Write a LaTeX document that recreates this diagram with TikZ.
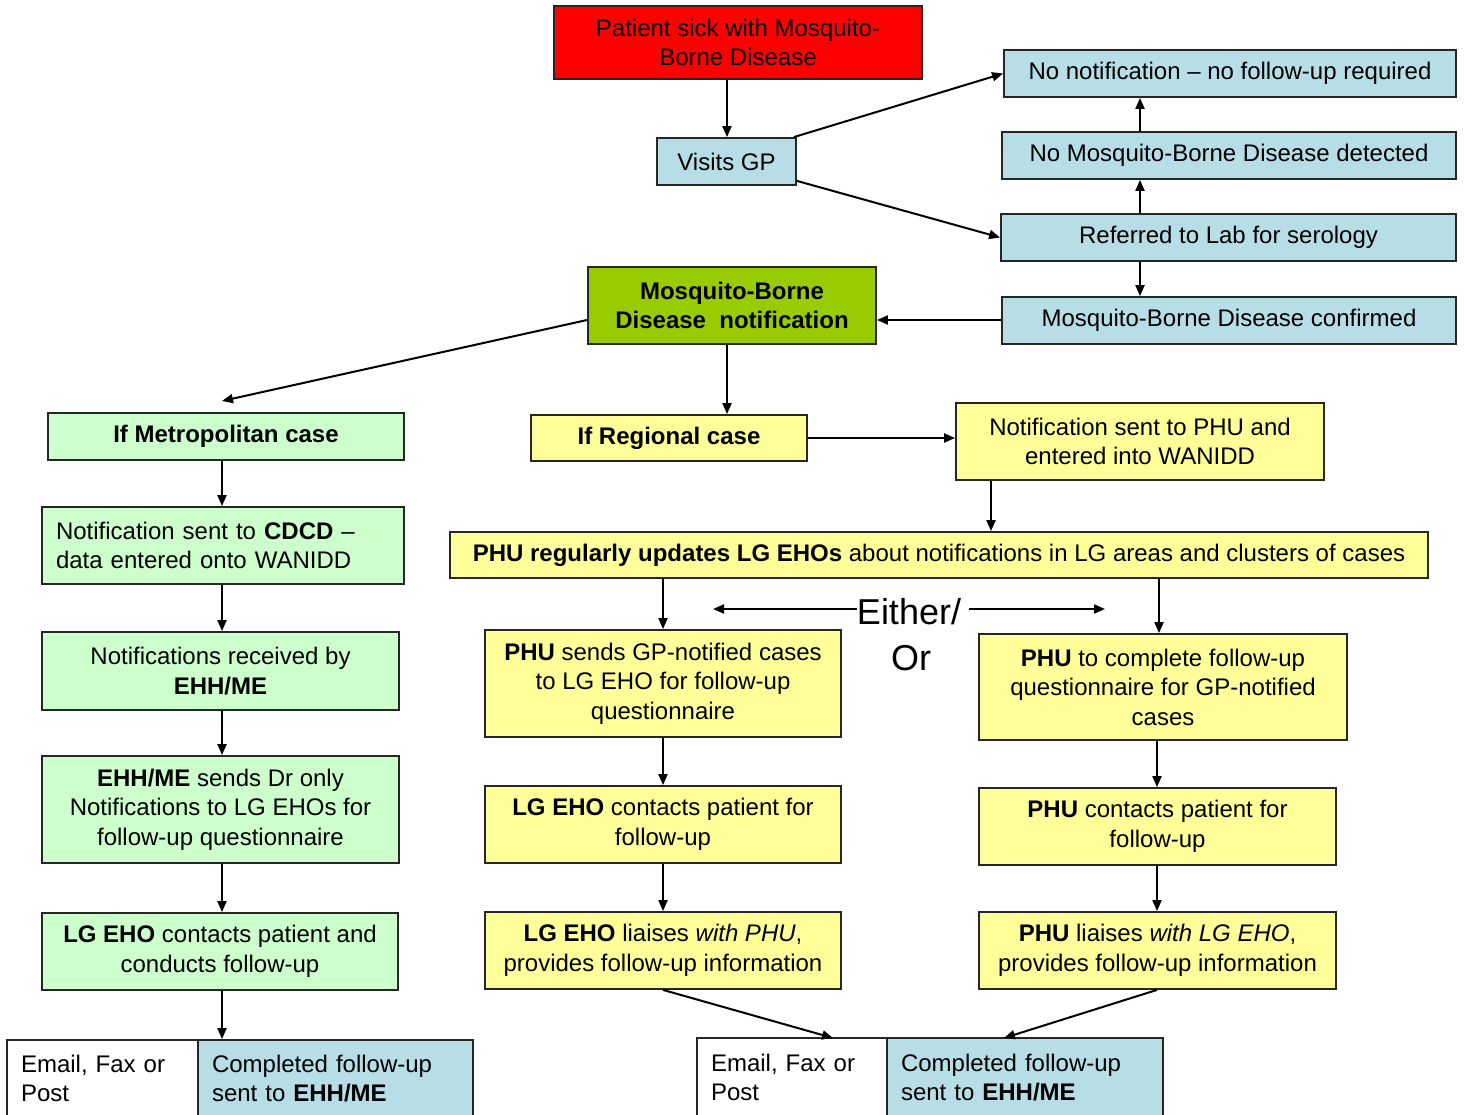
\documentclass[tikz,border=0pt]{standalone}
\usepackage{fontspec}
\setmainfont{Liberation Sans}
\usetikzlibrary{arrows.meta,calc}
\definecolor{lblue}{RGB}{183,221,230}
\definecolor{mgreen}{RGB}{153,204,0}
\definecolor{lgreen}{RGB}{204,255,204}
\definecolor{lyellow}{RGB}{255,255,153}
\begin{document}
\begin{tikzpicture}[x=1pt,y=-1pt,
  box/.style={draw=black!85,line width=1.8pt,inner sep=0pt,align=center,
    font=\fontsize{24}{29.5}\selectfont},
  lbox/.style={box,align=left,inner xsep=14pt},
  arr/.style={-{Triangle[length=11pt,width=9pt]},line width=2pt},
  bigtxt/.style={inner sep=0pt,font=\fontsize{36}{36}\selectfont}
]
\clip (0,0) rectangle (1466,1115);
\fill[white] (0,0) rectangle (1466,1115);

% top part
\node[box,fill=red,minimum width=368pt,minimum height=73pt] (red) at (738,42.5) {Patient sick with Mosquito-\\Borne Disease};
\node[box,fill=lblue,minimum width=139pt,minimum height=47pt] (gp) at (726.5,161.5) {Visits GP};
\node[box,fill=lblue,minimum width=452pt,minimum height=47pt] (nonotif) at (1230,73.5) {No notification -- no follow-up required};
\node[box,fill=lblue,minimum width=454pt,minimum height=47pt] (nomb) at (1229,155.5) {No Mosquito-Borne Disease detected};
\node[box,fill=lblue,minimum width=455pt,minimum height=47pt] (ref) at (1228.5,237.5) {Referred to Lab for serology};
\node[box,fill=lblue,minimum width=454pt,minimum height=47pt] (conf) at (1229,320.5) {Mosquito-Borne Disease confirmed};
\node[box,fill=mgreen,minimum width=288pt,minimum height=77pt,font=\fontsize{24}{29.5}\selectfont\bfseries] (notif) at (732,305.5) {Mosquito-Borne\\Disease\ \ notification};

% left column
\node[box,fill=lgreen,minimum width=356pt,minimum height=47pt,font=\fontsize{24}{29.5}\selectfont\bfseries] (metro) at (226,436.5) {If Metropolitan case};
\node[lbox,fill=lgreen,text width=334pt,minimum height=77pt] (cdcd) at (223,545.5) {Notification sent to \textbf{CDCD} --\\data entered onto WANIDD};
\node[box,fill=lgreen,minimum width=357pt,minimum height=78pt] (recv) at (220.5,671) {Notifications received by\\\textbf{EHH/ME}};
\node[box,fill=lgreen,minimum width=357pt,minimum height=107pt] (sends) at (220.5,809.5) {\textbf{EHH/ME} sends Dr only\\Notifications to LG EHOs for\\follow-up questionnaire};
\node[box,fill=lgreen,minimum width=356pt,minimum height=77pt] (lgcont) at (220,951.5) {\textbf{LG EHO} contacts patient and\\conducts follow-up};
\node[lbox,fill=white,text width=163pt,minimum height=77pt] (email1) at (102.5,1078.5) {Email, Fax or\\Post};
\node[lbox,fill=lblue,text width=247pt,minimum height=77pt] (comp1) at (335.5,1078.5) {Completed follow-up\\sent to \textbf{EHH/ME}};

% regional part
\node[box,fill=lyellow,minimum width=276pt,minimum height=46pt,font=\fontsize{24}{29.5}\selectfont\bfseries] (reg) at (669,438) {If Regional case};
\node[box,fill=lyellow,minimum width=368pt,minimum height=77pt] (phun) at (1140,441.5) {Notification sent to PHU and\\entered into WANIDD};
\node[box,fill=lyellow,minimum width=978pt,minimum height=46pt] (upd) at (939,555) {\textbf{PHU regularly updates LG EHOs} about notifications in LG areas and clusters of cases};
\node[box,fill=lyellow,minimum width=356pt,minimum height=107pt] (psend) at (663,683.5) {\textbf{PHU} sends GP-notified cases\\to LG EHO for follow-up\\questionnaire};
\node[box,fill=lyellow,minimum width=368pt,minimum height=106pt] (pcomp) at (1163,687) {\textbf{PHU} to complete follow-up\\questionnaire for GP-notified\\cases};
\node[box,fill=lyellow,minimum width=356pt,minimum height=77pt] (lgc2) at (663,824.5) {\textbf{LG EHO} contacts patient for\\follow-up};
\node[box,fill=lyellow,minimum width=357pt,minimum height=77pt] (pcont) at (1157.5,826.5) {\textbf{PHU} contacts patient for\\follow-up};
\node[box,fill=lyellow,minimum width=356pt,minimum height=77pt] (lgl) at (663,950.5) {\textbf{LG EHO} liaises \textit{with PHU},\\provides follow-up information};
\node[box,fill=lyellow,minimum width=357pt,minimum height=77pt] (pl) at (1157.5,950.5) {\textbf{PHU} liaises \textit{with LG EHO},\\provides follow-up information};
\node[lbox,fill=white,text width=162pt,minimum height=79pt] (email2) at (792,1077.5) {Email, Fax or\\Post};
\node[lbox,fill=lblue,text width=248pt,minimum height=79pt] (comp2) at (1025,1077.5) {Completed follow-up\\sent to \textbf{EHH/ME}};

% either / or
\node[bigtxt] (eith) at (909,612) {Either/};
\node[bigtxt] (or) at (911,658) {Or};

% helper coordinates
\coordinate (col) at (1140,0);
\coordinate (lcol) at (222,0);
\coordinate (mcol) at (727,0);
\coordinate (rcol) at (1157,0);
\coordinate (crow) at (0,320);
\coordinate (c991) at (991,0);
\coordinate (c1159) at (1159,0);
\coordinate (eL) at (713,609);
\coordinate (eR) at (1105,609);
\coordinate (e2t) at (833,1038);
\coordinate (c2t) at (1004,1038);
\coordinate (mt) at (222,401);

% connectors
\draw[arr] (red.south -| mcol) -- (gp.north -| mcol);
\draw[arr] ([xshift=-3pt]gp.north east) -- (nonotif.west);
\draw[arr] ($(gp.south east)+(0,-5)$) -- (ref.west);
\draw[arr] (ref.north -| col) -- (nomb.south -| col);
\draw[arr] (nomb.north -| col) -- (nonotif.south -| col);
\draw[arr] (ref.south -| col) -- (conf.north -| col);
\draw[arr] (crow -| conf.west) -- (crow -| notif.east);
\draw[arr] (crow -| notif.west) -- (mt);
\draw[arr] (notif.south -| mcol) -- (reg.north -| mcol);

\draw[arr] (metro.south -| lcol) -- (cdcd.north -| lcol);
\draw[arr] (cdcd.south -| lcol) -- (recv.north -| lcol);
\draw[arr] (recv.south -| lcol) -- (sends.north -| lcol);
\draw[arr] (sends.south -| lcol) -- (lgcont.north -| lcol);
\draw[arr] (lgcont.south -| lcol) -- (comp1.north -| lcol);

\draw[arr] (reg.east) -- (reg.east -| phun.west);
\draw[arr] (phun.south -| c991) -- (upd.north -| c991);
\draw[arr] (upd.south -| psend.north) -- (psend.north);
\draw[arr] (upd.south -| c1159) -- (pcomp.north -| c1159);
\draw[arr] (psend.south) -- (lgc2.north);
\draw[arr] (lgc2.south) -- (lgl.north);
\draw[arr] (pcomp.south -| rcol) -- (pcont.north -| rcol);
\draw[arr] (pcont.south -| rcol) -- (pl.north -| rcol);
\draw[arr] (lgl.south) -- (e2t);
\draw[arr] (pl.south -| rcol) -- (c2t);

\draw[arr] (eL -| eith.west) -- (eL);
\draw[arr] ([xshift=8pt]eR -| eith.east) -- (eR);
\end{tikzpicture}
\end{document}
